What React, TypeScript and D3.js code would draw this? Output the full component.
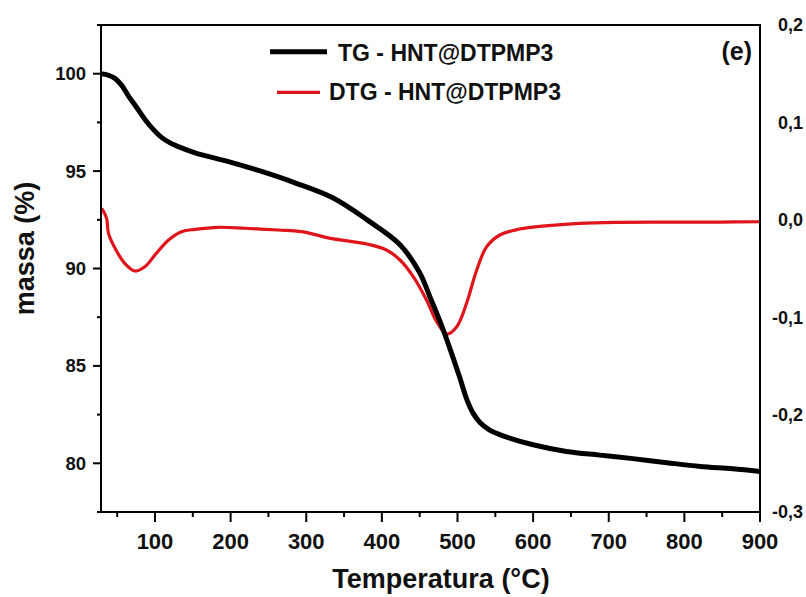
import React from "react";
import * as d3 from "d3";

const tgTemp = [28.6, 38, 47, 56, 65, 76, 87, 98, 109, 120, 130, 153, 196, 241, 285, 335, 380, 424, 450, 464, 477, 490, 503, 512.5, 521, 530, 542, 556, 600, 644, 688, 732, 777, 821, 864, 900];
const tgMass = [100, 99.93, 99.76, 99.4, 98.85, 98.25, 97.64, 97.13, 96.72, 96.45, 96.27, 95.94, 95.5, 94.98, 94.4, 93.63, 92.51, 91.22, 89.78, 88.5, 87.27, 85.89, 84.4, 83.26, 82.55, 82.08, 81.72, 81.47, 80.95, 80.61, 80.42, 80.24, 80.03, 79.84, 79.72, 79.58];

const dtgTemp = [29.5, 36, 38.5, 47, 60, 73.5, 87, 100, 118, 135, 153, 184, 219, 263, 294, 332, 380, 406, 424, 441.5, 459, 472.5, 486, 499, 512, 525.4, 538.6, 556, 582, 620, 662, 715, 781, 847, 900];
const dtgVal = [0.0118, 0.0015, -0.0139, -0.029, -0.0447, -0.0526, -0.048, -0.036, -0.0207, -0.0122, -0.0098, -0.0077, -0.0087, -0.0105, -0.0122, -0.019, -0.0248, -0.031, -0.0413, -0.0584, -0.0823, -0.1046, -0.1172, -0.1097, -0.0857, -0.0515, -0.0276, -0.0156, -0.0095, -0.006, -0.0036, -0.0026, -0.0023, -0.0023, -0.002];

const xMajor = [100, 200, 300, 400, 500, 600, 700, 800, 900];
const xMinor = [50, 150, 250, 350, 450, 550, 650, 750, 850];
const yMajor = [80, 85, 90, 95, 100];
const yMinor = [77.5, 82.5, 87.5, 92.5, 97.5, 102.5];
const y2Ticks = [0.2, 0.1, 0.0, -0.1, -0.2, -0.3];

const seriesNames = ["TG - HNT@DTPMP3", "DTG - HNT@DTPMP3"];

const FONT = "'Liberation Sans', Arial, Helvetica, sans-serif";

export default function App() {
  const left = 101, right = 760, top = 25, bottom = 512;
  const x = d3.scaleLinear().domain([28.6, 900]).range([left, right]);
  const y = d3.scaleLinear().domain([77.5, 102.5]).range([bottom, top]);
  const y2 = d3.scaleLinear().domain([-0.3, 0.2]).range([bottom, top]);

  const tgLine = d3
    .line<number>()
    .x((_, i) => x(tgTemp[i]))
    .y((d) => y(d))
    .curve(d3.curveCatmullRom.alpha(0.5))(tgMass);
  const dtgLine = d3
    .line<number>()
    .x((_, i) => x(dtgTemp[i]))
    .y((d) => y2(d))
    .curve(d3.curveCatmullRom.alpha(0.5))(dtgVal);

  return (
    <svg width={806} height={597} style={{ position: "absolute", left: 0, top: 0, background: "#fff" }} fontFamily={FONT}>
      <rect x={0} y={0} width={806} height={597} fill="#fff" />
      <defs>
        <clipPath id="plot">
          <rect x={left} y={top} width={right - left} height={bottom - top} />
        </clipPath>
      </defs>
      <g clipPath="url(#plot)">
        <path d={dtgLine || ""} fill="none" stroke="#e0141b" strokeWidth={3.2} strokeLinejoin="round" />
        <path d={tgLine || ""} fill="none" stroke="#000" strokeWidth={5} strokeLinejoin="round" />
      </g>
      {/* frame */}
      <rect x={left} y={top} width={right - left} height={bottom - top} fill="none" stroke="#000" strokeWidth={2} />
      {/* left ticks */}
      {yMajor.map((v) => (
        <g key={"ym" + v}>
          <line x1={left - 8} x2={left} y1={y(v)} y2={y(v)} stroke="#000" strokeWidth={2} />
          <text x={86} y={y(v)} dy="0.35em" textAnchor="end" fontSize={18.5} fontWeight="bold" fill="#111">
            {v}
          </text>
        </g>
      ))}
      {yMinor.map((v) => (
        <line key={"yn" + v} x1={left - 4} x2={left} y1={y(v)} y2={y(v)} stroke="#000" strokeWidth={2} />
      ))}
      {/* bottom ticks */}
      {xMajor.map((v) => (
        <g key={"xm" + v}>
          <line x1={x(v)} x2={x(v)} y1={bottom} y2={bottom + 10} stroke="#000" strokeWidth={2} />
          <text x={x(v)} y={548.5} textAnchor="middle" fontSize={22} fontWeight="bold" fill="#111">
            {v}
          </text>
        </g>
      ))}
      {xMinor.map((v) => (
        <line key={"xn" + v} x1={x(v)} x2={x(v)} y1={bottom} y2={bottom + 5} stroke="#000" strokeWidth={2} />
      ))}
      {/* right labels */}
      {y2Ticks.map((v) => (
        <text key={"y2" + v} x={803} y={y2(v)} dy="0.35em" textAnchor="end" fontSize={18} fontWeight="bold" fill="#111">
          {d3.format(".1f")(v).replace(".", ",").replace("−", "-")}
        </text>
      ))}
      {/* axis titles */}
      <text x={441} y={588} textAnchor="middle" fontSize={27} fontWeight="bold" fill="#111">
        Temperatura (°C)
      </text>
      <text transform="translate(34,248.5) rotate(-90)" textAnchor="middle" fontSize={27} fontWeight="bold" fill="#111">
        massa (%)
      </text>
      {/* legend */}
      <line x1={270} x2={327} y1={51.7} y2={51.7} stroke="#000" strokeWidth={5} />
      <text x={338} y={60.5} fontSize={23} fontWeight="bold" fill="#111">
        {seriesNames[0]}
      </text>
      <line x1={277} x2={320} y1={92.3} y2={92.3} stroke="#e0141b" strokeWidth={3.2} />
      <text x={329} y={99.5} fontSize={23} fontWeight="bold" fill="#111">
        {seriesNames[1]}
      </text>
      <text x={752} y={60} textAnchor="end" fontSize={25} fontWeight="bold" fill="#111">
        (e)
      </text>
    </svg>
  );
}
